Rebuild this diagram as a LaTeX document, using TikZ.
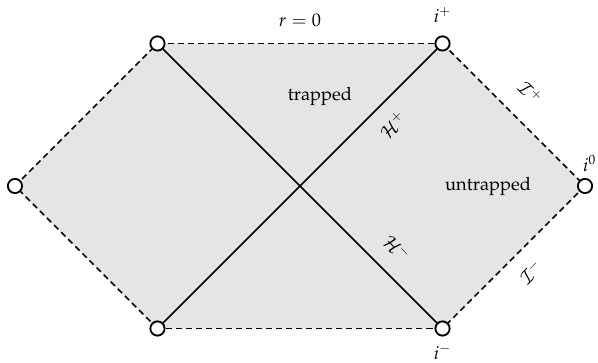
\documentclass[tikz,border=0pt,11pt]{standalone}
\usepackage[T1]{fontenc}
\usepackage{mathpazo}
\begin{document}
\begin{tikzpicture}[scale=3]
        \tikzstyle{vertex}=[circle, draw, fill=white, line width=1.1pt, minimum size=0.3cm, inner sep=0pt]
        \tikzstyle{bdry}=[line width=0.9pt, dash pattern=on 3.6pt off 2.4pt]
        \tikzstyle{horizon}=[line width=0.9pt]

        \useasboundingbox (-2.105,-1.242) rectangle (2.091,1.305);

        \coordinate (l) at (-2,0);
        \coordinate (tl) at (-1,1);
        \coordinate (tr) at (1,1);
        \coordinate (r) at (2,0);
        \coordinate (br) at (1,-1);
        \coordinate (bl) at (-1,-1);

        \fill[black!10] (l) -- (tl) -- (tr) -- (r) -- (br) -- (bl) -- cycle;

        \draw[bdry] (l) -- (tl);
        \draw[bdry] (tl) -- node[above=6pt] {$r=0$} (tr);
        \draw[bdry] (tr) -- node[sloped, above=8pt, pos=0.48] {$\mathcal{I}^+$} (r);
        \draw[bdry] (r) -- node[sloped, below=5pt, pos=0.49] {$\mathcal{I}^-$} (br);
        \draw[bdry] (br) -- (bl);
        \draw[bdry] (bl) -- (l);

        \draw[horizon] (bl) -- node[sloped, below=5pt, pos=0.77] {$\mathcal{H}^+$} (tr);
        \draw[horizon] (tl) -- node[sloped, above=6pt, pos=0.78] {$\mathcal{H}^-$} (br);

        \node[vertex] (L) at (l) {};
        \node[vertex] (TL) at (tl) {};
        \node[vertex] (TR) at (tr) {};
        \node[vertex] (R) at (r) {};
        \node[vertex] (BR) at (br) {};
        \node[vertex] (BL) at (bl) {};

        \node[above=4pt] (ip) at (TR.north) {$i^+$};
        \node[anchor=south west, xshift=-5pt, yshift=0pt] (i0) at (R.north) {$i^0$};
        \node[below=1pt] (im) at (BR.south) {$i^-$};

        \node (trapped) at (0.14,0.63) {trapped};
        \node (untrapped) at (1.32,0) {untrapped};
    \end{tikzpicture}
\end{document}
